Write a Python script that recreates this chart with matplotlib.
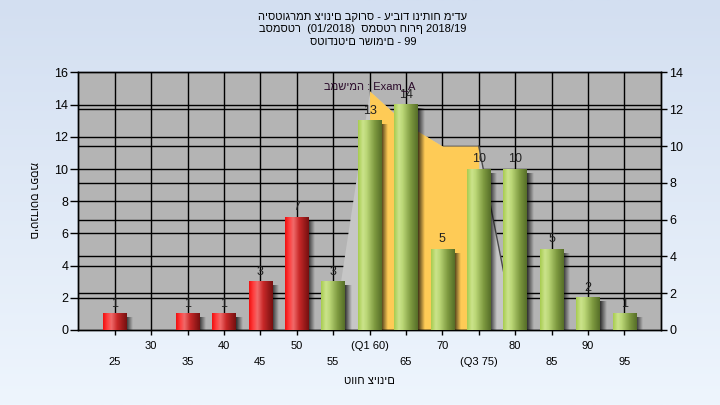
import numpy as np
import matplotlib.pyplot as plt
from matplotlib.colors import LinearSegmentedColormap

plt.rcParams['font.family'] = ['Liberation Sans', 'DejaVu Sans']

# histogram of grades (left axis)
grades = [25, 30, 35, 40, 45, 50, 55, 60, 65, 70, 75, 80, 85, 90, 95]
counts = [1, 0, 1, 1, 3, 7, 3, 13, 14, 5, 10, 10, 5, 2, 1]
tick_labels = ['25', '30', '35', '40', '45', '50', '55', '(Q1 60)', '65', '70',
               '(Q3 75)', '80', '85', '90', '95']
pass_grade = 55

# task series "Exam_A" (right axis)
task_x = [55, 60, 65, 70, 75, 80]
task_y = [0, 13, 11.2, 10, 10, 0]
q1, q3 = 60, 75

title_lines = ['היסטוגרמת ציונים בקורס - עיבוד וניתוח מידע',
               'בסמסטר  (01/2018)  סמסטר חורף 2018/19',
               'סטודנטים רשומים - 99']
x_title = 'טווח ציונים'
y_title = 'מספר סטודנטים'
series_name = 'במשימה : Exam_A'

fig = plt.figure(figsize=(7.2, 4.05), dpi=100)

# light blue gradient background
bg = fig.add_axes([0, 0, 1, 1], zorder=-10)
bg_cmap = LinearSegmentedColormap.from_list('bg', ['#d3dff1', '#eef5fd'])
bg.imshow(np.linspace(0, 1, 256).reshape(-1, 1), aspect='auto', cmap=bg_cmap,
          extent=[0, 1, 0, 1], origin='upper')
bg.axis('off')

ax = fig.add_axes([0.1088, 0.1852, 0.8089, 0.6358])
ax2 = ax.twinx()
ax.set_zorder(2)
ax2.set_zorder(1)
ax.patch.set_visible(False)
ax2.patch.set_visible(True)
ax2.patch.set_facecolor('#b4b4b4')

left_ticks = list(range(0, 17, 2))
right_ticks = list(range(0, 15, 2))

# grid (behind the area)
ax2.hlines(right_ticks[1:-1], 20, 100, color='black', lw=1, zorder=0.6)
ax2.hlines(left_ticks[1:-1], 20, 100, color='black', lw=1, zorder=0.6,
           transform=ax.transData)
ax2.vlines(grades, 0, 14, color='black', lw=1, zorder=0.6)

# area series, Q1..Q3 highlighted
ax2.fill_between(task_x, task_y, color='#c6c6c6', lw=0, zorder=1)
inside = [q1 <= x <= q3 for x in task_x]
ax2.fill_between(task_x, task_y, where=inside, color='#fecb56', lw=0, zorder=1.1)
i3 = task_x.index(q3)
ax2.plot(task_x[i3:], task_y[i3:], color='#4a4a4a', lw=1, zorder=1.2)

# bars
colors = ['#d02020' if g < pass_grade else '#9cc050' for g in grades]
bars = ax.bar(grades, counts, width=3.2, color=colors, zorder=3)

red_cmap = LinearSegmentedColormap.from_list(
    'red', [(0, '#f01010'), (0.18, '#ff4040'), (0.35, '#f06a6a'), (0.6, '#c82828'), (1, '#761010')])
green_cmap = LinearSegmentedColormap.from_list(
    'green', [(0, '#a8cc50'), (0.2, '#cbe38c'), (0.35, '#bcd878'), (0.7, '#7e9a40'), (1, '#566e28')])
row = np.linspace(0, 1, 64).reshape(1, -1)
shadow = np.zeros((1, 32, 4))
shadow[..., 3] = np.linspace(0.75, 0, 32)
for b, g in zip(bars, grades):
    h = b.get_height()
    if h == 0:
        continue
    x0, w = b.get_x(), b.get_width()
    cm = red_cmap if g < pass_grade else green_cmap
    ax.imshow(row, cmap=cm, extent=[x0, x0 + w, 0, h], aspect='auto',
              interpolation='bilinear', zorder=3.1)
    ax.imshow(shadow, extent=[x0 + w, x0 + w + 0.9, 0, h - 0.25], aspect='auto',
              interpolation='bilinear', zorder=2.9)

ax.bar_label(bars, labels=[str(c) if c else '' for c in counts], padding=3,
             fontsize=9, color='#202020')

ax.set_xlim(20, 100)
ax.set_ylim(0, 16)
ax2.set_ylim(0, 14)

ax.set_yticks(left_ticks)
ax2.set_yticks(right_ticks)
ax.tick_params(axis='y', direction='out', length=5.8, width=1, pad=1.5, labelsize=9)
ax2.tick_params(axis='y', direction='out', length=4.3, width=1, pad=2, labelsize=9)

ax.set_xticks(grades[1::2], tick_labels[1::2])
ax.set_xticks(grades[0::2], tick_labels[0::2], minor=True)
ax.tick_params(axis='x', which='both', direction='out', length=3.6, width=1, labelsize=8)
ax.tick_params(axis='x', which='major', pad=4.5)
ax.tick_params(axis='x', which='minor', pad=15.5)

for a in (ax, ax2):
    for s in a.spines.values():
        s.set_color('black')
        s.set_linewidth(1)

ax.text(0.5, 0.9476, series_name, transform=ax.transAxes, ha='center', va='center',
        fontsize=8, color='#2a0a2a', zorder=5)

for line, yy in zip(title_lines, [16.7, 29.3, 41.7]):
    fig.text(363 / 720, 1 - yy / 405, line, ha='center', va='center', fontsize=8)
fig.text(369 / 720, 1 - 381 / 405, x_title, ha='center', va='center', fontsize=8)
fig.text(33 / 720, 1 - 200 / 405, y_title, ha='center', va='center', fontsize=8,
         rotation=270)

fig.savefig('out.png', dpi=100)
